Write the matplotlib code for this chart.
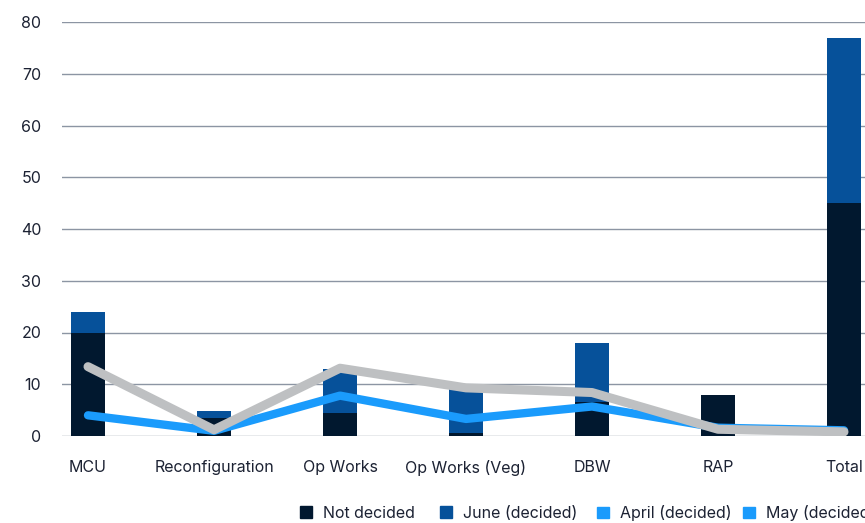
import matplotlib
matplotlib.use("Agg")
import matplotlib.pyplot as plt
from matplotlib.patches import Patch
import numpy as np

plt.rcParams['font.family'] = ['Inter', 'DejaVu Sans']

categories = ["MCU", "Reconfiguration", "Op Works", "Op Works (Veg)", "DBW", "RAP", "Total"]
not_decided = [20, 3.5, 4.5, 0.5, 6.6, 8, 45]
june_decided = [4, 1.3, 8.5, 8.5, 11.4, 0, 32]
april_decided = [4, 1, 7.8, 3.3, 5.7, 1.6, 1.1]
may_decided = [13.4, 1.2, 13.1, 9.3, 8.4, 1.3, 0.8]
yticks = [0, 10, 20, 30, 40, 50, 60, 70, 80]
legend_labels = ["Not decided", "June (decided)", "April (decided)", "May (decided)"]

c_nd = "#01182f"
c_june = "#06519a"
c_april = "#1a9bfc"
c_may = "#bec0c2"
txt = "#1c2233"

fig = plt.figure(figsize=(8.65, 5.23), dpi=100)
ax = fig.add_axes([62/865, 87/523, (865-62)/865, 414/523])

x = np.arange(len(categories))
w = 34/126
ax.bar(x, not_decided, w, color=c_nd, zorder=2)
ax.bar(x, june_decided, w, bottom=not_decided, color=c_june, zorder=2)
ax.plot(x, april_decided, color=c_april, lw=6, solid_capstyle='round', solid_joinstyle='round', zorder=3)
ax.plot(x, may_decided, color=c_may, lw=6.5, solid_capstyle='round', solid_joinstyle='round', zorder=4)

ax.set_xlim((62-88)/126, (865-88)/126)
ax.set_ylim(0, 80)
ax.set_yticks(yticks)
ax.set_xticks(x)
ax.set_xticklabels(categories)
for s in ax.spines.values():
    s.set_visible(False)
ax.yaxis.grid(True, color="#8c95a3", lw=1)
ax.set_axisbelow(True)
ax.tick_params(axis='both', length=0, labelsize=11.5, labelcolor=txt)
ax.tick_params(axis='y', pad=15)
ax.tick_params(axis='x', pad=17)

legend_colors = [c_nd, c_june, c_april, c_april]
legend_x = [300, 440, 597, 743]
for lab, col, lx in zip(legend_labels, legend_colors, legend_x):
    leg = fig.legend([Patch(color=col)], [lab], loc='center left',
                     bbox_to_anchor=(lx/865, 10/523), frameon=False, fontsize=11.5,
                     handlelength=0.75, handleheight=0.75, handletextpad=0.7,
                     borderpad=0, borderaxespad=0, labelcolor=txt)

fig.savefig("out.png", dpi=100)
